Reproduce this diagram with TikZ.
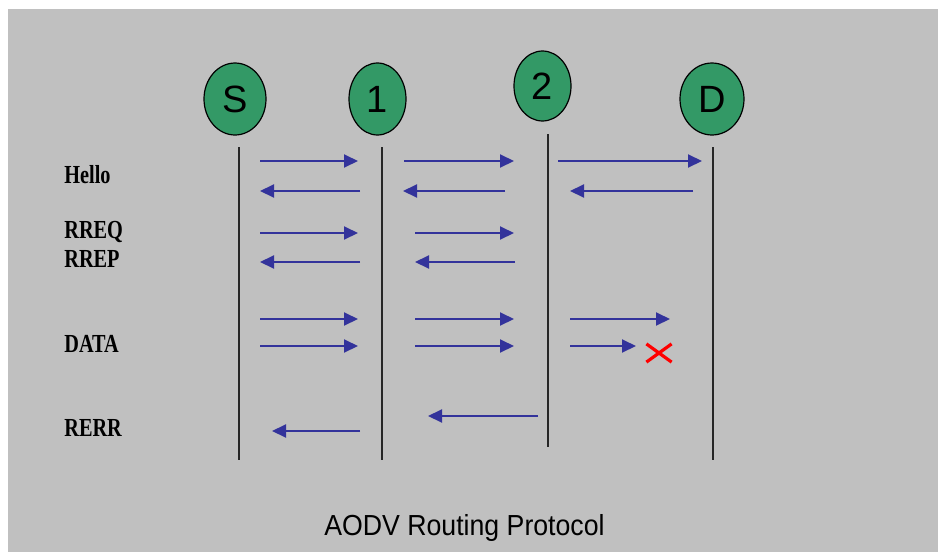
\documentclass[tikz,border=0pt]{standalone}
\usepackage{fontspec}
\setmainfont{Liberation Serif}
\setsansfont{Liberation Sans}
\usetikzlibrary{arrows.meta, shapes.geometric, shapes.misc}
\definecolor{aodvgray}{RGB}{192, 192, 192}
\definecolor{aodvgreen}{RGB}{51, 153, 102}
\definecolor{aodvblue}{RGB}{51, 51, 155}

\begin{document}
\begin{tikzpicture}[
    x=0.5pt, y=-0.5pt,
    station/.style={ellipse, draw=black, line width=0.6pt, fill=aodvgreen,
                    inner sep=0pt, minimum height=36pt,
                    font=\sffamily\fontsize{19}{19}\selectfont},
    life/.style={line width=0.8pt, black!85},
    msg/.style={-{Triangle[length=7pt, width=6.5pt]}, line width=1pt, aodvblue},
    tag/.style={anchor=base west, inner sep=0pt,
                font=\fontsize{13}{13}\selectfont\bfseries},
  ]

  % ── background ──────────────────────────────────
  \useasboundingbox (0,0) rectangle (938,552);
  \fill[white] (0,0) rectangle (938,552);
  \fill[aodvgray] (8,9) rectangle (938,552);

  % ── stations ────────────────────────────────────
  \node[station, minimum width=31pt] (s) at (235, 99) {S};
  \node[station, minimum width=28.5pt] (n1) at (377.5, 99) {1};
  \node[station, minimum width=28.5pt, minimum height=35pt] (n2) at (542.5, 86) {2};
  \node[station, minimum width=32pt] (d) at (712, 99) {D};

  \coordinate (sbot)  at (239, 460);
  \coordinate (n1bot) at (382, 460);
  \coordinate (n2bot) at (548, 447);
  \coordinate (dbot)  at (713, 460);

  \draw[life] (239, 147) -- (sbot);
  \draw[life] (382, 147) -- (n1bot);
  \draw[life] (548, 134) -- (n2bot);
  \draw[life] (713, 147) -- (dbot);

  % ── message labels ──────────────────────────────
  \node[tag] (hello) at (64, 183) {\scalebox{0.78}[1]{Hello}};
  \node[tag] (rreq)  at (64, 238) {\scalebox{0.78}[1]{RREQ}};
  \node[tag] (rrep)  at (64, 267) {\scalebox{0.78}[1]{RREP}};
  \node[tag] (data)  at (64, 352) {\scalebox{0.78}[1]{DATA}};
  \node[tag] (rerr)  at (64, 436) {\scalebox{0.78}[1]{RERR}};

  % ── messages ────────────────────────────────────
  % hello
  \draw[msg] (260, 161) -- (358, 161);
  \draw[msg] (404, 161) -- (514, 161);
  \draw[msg] (558, 161) -- (702, 161);
  \draw[msg] (360, 191) -- (260, 191);
  \draw[msg] (505, 191) -- (403, 191);
  \draw[msg] (693, 191) -- (570, 191);

  % route request / reply
  \draw[msg] (260, 233) -- (358, 233);
  \draw[msg] (415, 233) -- (514, 233);
  \draw[msg] (360, 262) -- (260, 262);
  \draw[msg] (515, 262) -- (415, 262);

  % data
  \foreach \y in {319, 346} {
    \draw[msg] (260, \y) -- (358, \y);
    \draw[msg] (415, \y) -- (514, \y);
  }
  \draw[msg] (570, 319) -- (670, 319);
  \draw[msg] (570, 346) -- (636, 346);
  \node[cross out, draw=red, line width=1.6pt, inner sep=0pt,
        minimum width=11pt, minimum height=7.5pt] (lost) at (659, 353) {};

  % route error
  \draw[msg] (360, 431) -- (272, 431);
  \draw[msg] (538, 416) -- (428, 416);

  % ── caption ─────────────────────────────────────
  \node[font=\sffamily\fontsize{14.5}{14.5}\selectfont, anchor=base]
        (caption) at (464.5, 535) {\scalebox{0.92}[1]{AODV Routing Protocol}};

\end{tikzpicture}
\end{document}
